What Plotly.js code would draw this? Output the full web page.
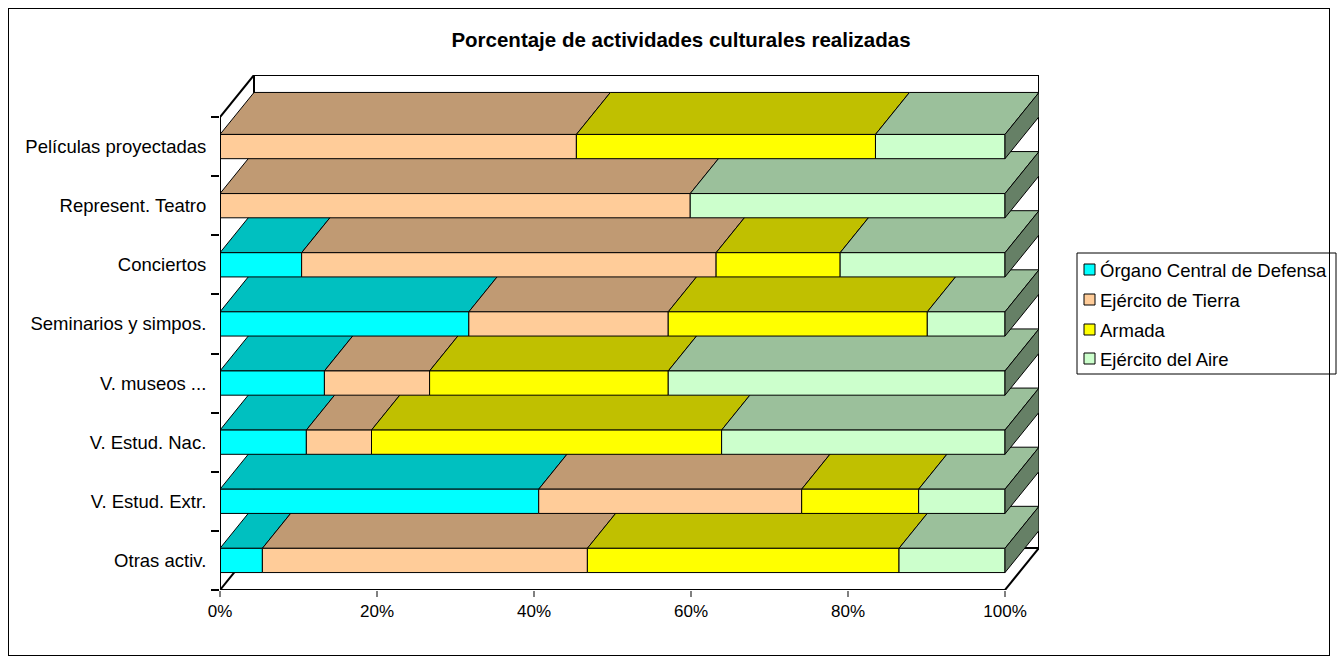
<!DOCTYPE html>
<html>
<head>
<meta charset="utf-8">
<script src="https://cdn.plot.ly/plotly-3.0.1.min.js"></script>
<style>
html,body{margin:0;padding:0;background:#fff;}
#chart{position:absolute;left:0;top:0;width:1338px;height:663px;}
#frame{position:absolute;left:8px;top:8px;width:1322px;height:648px;box-sizing:border-box;border:1px solid #000;pointer-events:none;}
</style>
</head>
<body>
<div id="chart"></div>
<div id="frame"></div>
<script>
// ---- data (top to bottom as displayed) ----
const categories = ["Películas proyectadas","Represent. Teatro","Conciertos","Seminarios y simpos.","V. museos ...","V. Estud. Nac.","V. Estud. Extr.","Otras activ."];
const seriesNames = ["Órgano Central de Defensa","Ejército de Tierra","Armada","Ejército del Aire"];
const organo = [0, 0, 10.4, 31.7, 13.3, 11.0, 40.6, 5.4];
const tierra = [45.4, 59.9, 52.8, 25.4, 13.4, 8.3, 33.5, 41.4];
const armada = [38.1, 0, 15.8, 33.0, 30.4, 44.6, 14.9, 39.7];
const aire   = [16.5, 40.1, 21.0, 9.9, 42.9, 36.1, 11.0, 13.5];
const xTickVals = [0, 20, 40, 60, 80, 100];
const xTickText = ["0%", "20%", "40%", "60%", "80%", "100%"];

const frontColors = ["#00FFFF", "#FFCC99", "#FFFF00", "#CCFFCC"];
const topColors   = ["#00C0C0", "#C09A73", "#C0C000", "#9BC09B"];
const sideColors  = ["#008080", "#806650", "#808000", "#668066"];

const values = [organo, tierra, armada, aire];
const n = categories.length;
const DX = 34 / 7.85;      // depth offset in % units
const DY = 42 / 59.125;    // depth offset in category units
const H = 0.205;           // half bar thickness

const FONT = "Liberation Sans, Arial, sans-serif";
const traces = [];

// walls / floor (main subplot, drawn beneath the overlay with bars)
const wx = [], wy = [];
function seg(x0, y0, x1, y1) { wx.push(x0, x1, null); wy.push(y0, y1, null); }
seg(DX, n + DY, 100 + DX, n + DY);
seg(0, n, DX, n + DY);
seg(DX, DY, DX, n + DY);
seg(100 + DX, DY, 100 + DX, n + DY);
seg(DX, DY, 100 + DX, DY);
seg(0, 0, DX, DY);
seg(100, 0, 100 + DX, DY);
traces.push({type: "scatter", mode: "lines", x: wx, y: wy, yaxis: "y",
  line: {color: "#000", width: 2}, hoverinfo: "skip", showlegend: false, cliponaxis: false});

function poly(xs, ys, fill) {
  traces.push({type: "scatter", mode: "lines", x: xs, y: ys, yaxis: "y2", fill: "toself",
    fillcolor: fill, line: {color: "#000", width: 1}, hoverinfo: "skip",
    showlegend: false, cliponaxis: false});
}

for (let i = n - 1; i >= 0; i--) {
  const yc = n - 1 - i + 0.5;
  let x0 = 0, last = 0;
  const segs = [];
  for (let s = 0; s < values.length; s++) {
    const v = values[s][i];
    if (v <= 0) continue;
    segs.push([s, x0, x0 + v]);
    x0 += v; last = s;
  }
  segs.forEach(([s, a, b]) => {
    poly([a, b, b + DX, a + DX, a], [yc + H, yc + H, yc + H + DY, yc + H + DY, yc + H], topColors[s]);
  });
  segs.forEach(([s, a, b]) => {
    poly([a, b, b, a, a], [yc - H, yc - H, yc + H, yc + H, yc - H], frontColors[s]);
  });
  poly([x0, x0 + DX, x0 + DX, x0, x0], [yc - H, yc - H + DY, yc + H + DY, yc + H, yc - H], sideColors[last]);
}

// front axis lines on top
traces.push({type: "scatter", mode: "lines", x: [0, 0, null, 0, 100], y: [n, 0, null, 0, 0], yaxis: "y2",
  line: {color: "#000", width: 2}, hoverinfo: "skip", showlegend: false, cliponaxis: false});

// manual legend (paper coords relative to plot area: l=220, plot w=819, bottom=590, plot h=515)
const px = v => (v - 220) / 819;
const py = v => (590 - v) / 515;
const shapes = [{type: "rect", xref: "paper", yref: "paper",
  x0: px(1077), x1: px(1336), y0: py(374), y1: py(253),
  line: {color: "#000", width: 1}, fillcolor: "#fff", layer: "above"}];
const annotations = [];
const rowY = [270, 300, 330, 359];
seriesNames.forEach((name, s) => {
  shapes.push({type: "rect", xref: "paper", yref: "paper",
    x0: px(1084), x1: px(1095), y0: py(rowY[s] + 5), y1: py(rowY[s] - 6),
    line: {color: "#000", width: 1}, fillcolor: frontColors[s], layer: "above"});
  annotations.push({xref: "paper", yref: "paper", x: px(1098), y: py(rowY[s]),
    xanchor: "left", yanchor: "middle", showarrow: false, text: name,
    font: {family: FONT, size: 18.5, color: "#000"}});
});

const yRange = [0, n + DY];
const layout = {
  width: 1338, height: 663,
  margin: {l: 220, r: 299, t: 75, b: 73},
  paper_bgcolor: "rgba(0,0,0,0)", plot_bgcolor: "rgba(0,0,0,0)",
  font: {family: FONT, size: 15, color: "#000"},
  title: {text: "<b>Porcentaje de actividades culturales realizadas</b>",
    font: {family: FONT, size: 20.5, color: "#000"},
    x: 681 / 1338, xanchor: "center", y: 1 - 40 / 663, yanchor: "middle"},
  xaxis: {range: [0, 100 + DX], tickvals: xTickVals, ticktext: xTickText,
    ticks: "outside", ticklen: 6, tickwidth: 1.5, tickcolor: "#808080",
    showgrid: false, zeroline: false, showline: false, fixedrange: true,
    tickfont: {family: FONT, size: 17, color: "#000"}},
  yaxis: {range: yRange, tickvals: categories.map((c, i) => n - 1 - i + 0.5), ticktext: categories,
    ticks: "outside", ticklen: 9, tickcolor: "rgba(0,0,0,0)",
    showgrid: false, zeroline: false, showline: false, fixedrange: true,
    tickfont: {family: FONT, size: 18.5, color: "#000"}},
  yaxis2: {range: yRange, overlaying: "y", side: "left", anchor: "x",
    tickvals: categories.map((c, i) => i).concat([n]), showticklabels: false,
    ticks: "outside", ticklen: 8, tickwidth: 2, tickcolor: "#000",
    showgrid: false, zeroline: false, showline: false, fixedrange: true},
  showlegend: false,
  shapes: shapes,
  annotations: annotations
};

Plotly.newPlot("chart", traces, layout, {displayModeBar: false, staticPlot: true});
</script>
</body>
</html>
